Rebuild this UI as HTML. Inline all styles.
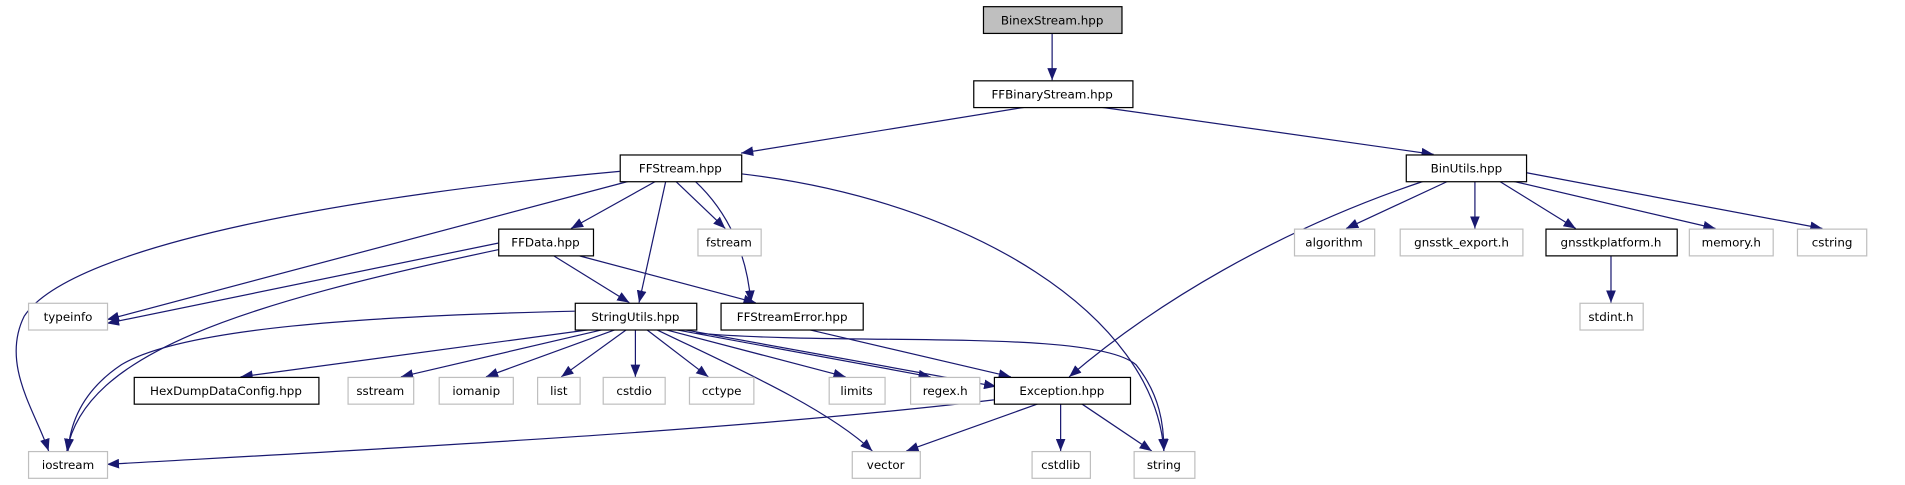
<!DOCTYPE html>
<html><head><meta charset="utf-8"><style>
html,body{margin:0;padding:0;background:#fff;}
svg{display:block;}
text{font-family:"DejaVu Sans","Liberation Sans",sans-serif;font-size:9.8px;fill:#000;text-anchor:middle;}
.e{fill:none;stroke:#191970;stroke-width:1;}
</style></head><body>
<svg width="1905" height="485" viewBox="0 0 1568 399" preserveAspectRatio="none">
<defs>
<marker id="a" markerWidth="10" markerHeight="8" refX="10" refY="4" orient="auto" markerUnits="userSpaceOnUse">
<path d="M0,0 L10,4 L0,8 z" fill="#191970"/>
</marker>
</defs>
<g class="e" marker-end="url(#a)">
<path d="M866,27 L866,66"/>
<path d="M845,88 L610,126"/>
<path d="M905,88 L1180,127"/>
<path d="M510,141 C300,160 60,200 20,260 C0,300 30,340 40,371"/>
<path d="M518,149 L88,263"/>
<path d="M540,149 L470,188"/>
<path d="M548,149 L526,249"/>
<path d="M556,149 L597,188"/>
<path d="M572,149 C600,175 615,210 618,249"/>
<path d="M610,143 C800,165 950,260 958,371"/>
<path d="M410,200 L88,266"/>
<path d="M412,205 C200,250 70,290 55,371"/>
<path d="M455,210 L518,249"/>
<path d="M475,210 L622,249"/>
<path d="M473,256 C300,260 150,270 100,300 C70,320 58,345 56,371"/>
<path d="M487,271 L198,310"/>
<path d="M497,271 L330,310"/>
<path d="M507,271 L400,310"/>
<path d="M516,271 L462,310"/>
<path d="M523,271 L523,310"/>
<path d="M532,271 L583,310"/>
<path d="M540,271 C600,300 680,335 718,371"/>
<path d="M547,271 L696,310"/>
<path d="M555,271 L766,310"/>
<path d="M562,271 L820,318"/>
<path d="M573,274 C700,285 900,270 935,300 C955,325 958,350 958,371"/>
<path d="M665,271 L832,310"/>
<path d="M818,329 C600,355 300,370 88,382"/>
<path d="M855,332 L746,371"/>
<path d="M873,332 L873,371"/>
<path d="M890,332 L948,371"/>
<path d="M1172,149 C1050,190 950,250 880,310"/>
<path d="M1192,149 L1108,188"/>
<path d="M1214,149 L1214,188"/>
<path d="M1234,149 L1297,188"/>
<path d="M1245,149 L1412,188"/>
<path d="M1256,142 L1500,188"/>
<path d="M1326,210 L1326,249"/>
</g>
<g stroke-width="1">
<rect x="809.5" y="5.5" width="114" height="22" fill="#bfbfbf" stroke="#000"/><text x="866" y="20">BinexStream.hpp</text>
<rect x="801.5" y="66.5" width="131" height="22" fill="#fff" stroke="#000"/><text x="866" y="81">FFBinaryStream.hpp</text>
<rect x="510.5" y="127.5" width="100" height="22" fill="#fff" stroke="#000"/><text x="560" y="142">FFStream.hpp</text>
<rect x="1157.5" y="127.5" width="99" height="22" fill="#fff" stroke="#000"/><text x="1207" y="142">BinUtils.hpp</text>
<rect x="410.5" y="188.5" width="78" height="22" fill="#fff" stroke="#000"/><text x="449" y="203">FFData.hpp</text>
<rect x="574.5" y="188.5" width="52" height="22" fill="#fff" stroke="#bfbfbf"/><text x="600" y="203">fstream</text>
<rect x="23.5" y="249.5" width="65" height="22" fill="#fff" stroke="#bfbfbf"/><text x="56" y="264">typeinfo</text>
<rect x="473.5" y="249.5" width="100" height="22" fill="#fff" stroke="#000"/><text x="523" y="264">StringUtils.hpp</text>
<rect x="593.5" y="249.5" width="117" height="22" fill="#fff" stroke="#000"/><text x="652" y="264">FFStreamError.hpp</text>
<rect x="110.5" y="310.5" width="152" height="22" fill="#fff" stroke="#000"/><text x="186" y="325">HexDumpDataConfig.hpp</text>
<rect x="286.5" y="310.5" width="54" height="22" fill="#fff" stroke="#bfbfbf"/><text x="313" y="325">sstream</text>
<rect x="361.5" y="310.5" width="61" height="22" fill="#fff" stroke="#bfbfbf"/><text x="392" y="325">iomanip</text>
<rect x="442.5" y="310.5" width="35" height="22" fill="#fff" stroke="#bfbfbf"/><text x="460" y="325">list</text>
<rect x="496.5" y="310.5" width="51" height="22" fill="#fff" stroke="#bfbfbf"/><text x="522" y="325">cstdio</text>
<rect x="567.5" y="310.5" width="53" height="22" fill="#fff" stroke="#bfbfbf"/><text x="594" y="325">cctype</text>
<rect x="682.5" y="310.5" width="46" height="22" fill="#fff" stroke="#bfbfbf"/><text x="705" y="325">limits</text>
<rect x="749.5" y="310.5" width="57" height="22" fill="#fff" stroke="#bfbfbf"/><text x="778" y="325">regex.h</text>
<rect x="818.5" y="310.5" width="112" height="22" fill="#fff" stroke="#000"/><text x="874" y="325">Exception.hpp</text>
<rect x="23.5" y="371.5" width="65" height="22" fill="#fff" stroke="#bfbfbf"/><text x="56" y="386">iostream</text>
<rect x="701.5" y="371.5" width="56" height="22" fill="#fff" stroke="#bfbfbf"/><text x="729" y="386">vector</text>
<rect x="849.5" y="371.5" width="48" height="22" fill="#fff" stroke="#bfbfbf"/><text x="873" y="386">cstdlib</text>
<rect x="933.5" y="371.5" width="50" height="22" fill="#fff" stroke="#bfbfbf"/><text x="958" y="386">string</text>
<rect x="1065.5" y="188.5" width="66" height="22" fill="#fff" stroke="#bfbfbf"/><text x="1098" y="203">algorithm</text>
<rect x="1152.5" y="188.5" width="101" height="22" fill="#fff" stroke="#bfbfbf"/><text x="1203" y="203">gnsstk_export.h</text>
<rect x="1272.5" y="188.5" width="108" height="22" fill="#fff" stroke="#000"/><text x="1326" y="203">gnsstkplatform.h</text>
<rect x="1390.5" y="188.5" width="69" height="22" fill="#fff" stroke="#bfbfbf"/><text x="1425" y="203">memory.h</text>
<rect x="1479.5" y="188.5" width="57" height="22" fill="#fff" stroke="#bfbfbf"/><text x="1508" y="203">cstring</text>
<rect x="1300.5" y="249.5" width="52" height="22" fill="#fff" stroke="#bfbfbf"/><text x="1326" y="264">stdint.h</text>
</g>
</svg>
</body></html>
